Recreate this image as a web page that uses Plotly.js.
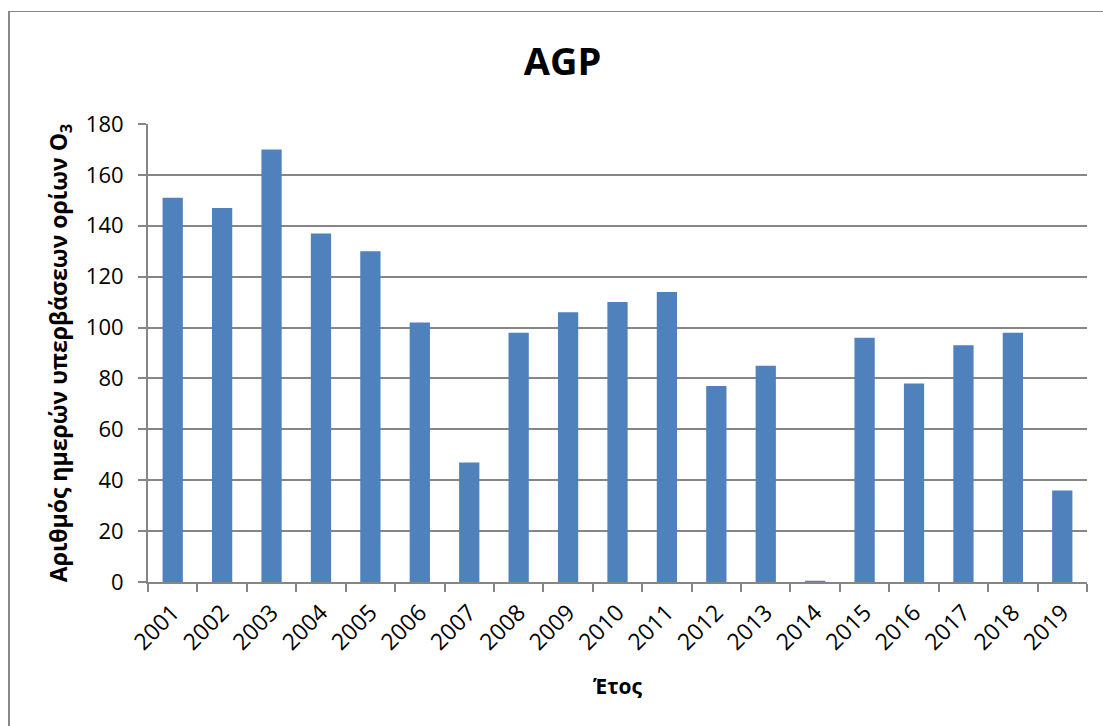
<!DOCTYPE html>
<html>
<head>
<meta charset="utf-8">
<script src="https://cdn.plot.ly/plotly-3.0.1.min.js"></script>
<style>
  html, body { margin: 0; padding: 0; background: #fff; }
  #wrap { position: relative; width: 1103px; height: 726px; }
  #chart { width: 1103px; height: 726px; }
  #frame { position: absolute; left: 8px; top: 11px; right: -10px; bottom: -10px;
           border-left: 2px solid #888; border-top: 1px solid #888; pointer-events: none; }
</style>
</head>
<body>
<div id="wrap">
  <div id="chart"></div>
  <div id="frame"></div>
</div>
<script>
const years = ["2001","2002","2003","2004","2005","2006","2007","2008","2009","2010",
               "2011","2012","2013","2014","2015","2016","2017","2018","2019"];
const exceedDays = [151,147,170,137,130,102,47,98,106,110,114,77,85,0.5,96,78,93,98,36];
const yTicks = [0,20,40,60,80,100,120,140,160,180];

const fontFam = '"Open Sans", "DejaVu Sans", sans-serif';

const trace = {
  type: 'bar',
  x: years,
  y: exceedDays,
  marker: { color: '#4F81BD' },
  hoverinfo: 'x+y'
};

const layout = {
  width: 1103,
  height: 726,
  margin: { l: 148, r: 16, t: 124, b: 144 },
  paper_bgcolor: '#ffffff',
  plot_bgcolor: '#ffffff',
  bargap: 0.59,
  showlegend: false,
  font: { family: fontFam, color: '#000' },
  title: {
    text: '<b>AGP</b>',
    font: { family: fontFam, size: 38, color: '#000' },
    x: 0.51, xref: 'container', xanchor: 'center',
    y: 0.915, yref: 'container', yanchor: 'middle'
  },
  xaxis: {
    type: 'category',
    tickangle: -45,
    tickfont: { family: fontFam, size: 23, color: '#000' },
    ticks: 'outside',
    tickson: 'boundaries',
    ticklen: 8,
    tickwidth: 2,
    tickcolor: '#868686',
    ticklabelstandoff: 6,
    showline: true,
    linecolor: '#868686',
    linewidth: 2,
    showgrid: false,
    title: { text: '<b>Έτος</b>', font: { family: fontFam, size: 21, color: '#000' }, standoff: 24 }
  },
  yaxis: {
    range: [0, 180],
    tickvals: yTicks,
    tickfont: { family: fontFam, size: 22, color: '#000' },
    ticks: 'outside',
    ticklen: 8,
    tickwidth: 2,
    tickcolor: '#868686',
    ticklabelstandoff: 10,
    showline: true,
    linecolor: '#868686',
    linewidth: 2,
    showgrid: true,
    gridcolor: '#868686',
    gridwidth: 2,
    zeroline: false,
    title: { text: '<b>Αριθμός ημερών υπερβάσεων ορίων O<sub>3</sub></b>', font: { family: fontFam, size: 23, color: '#000' }, standoff: 12 }
  }
};

Plotly.newPlot('chart', [trace], layout, { displayModeBar: false, staticPlot: true });
</script>
</body>
</html>
